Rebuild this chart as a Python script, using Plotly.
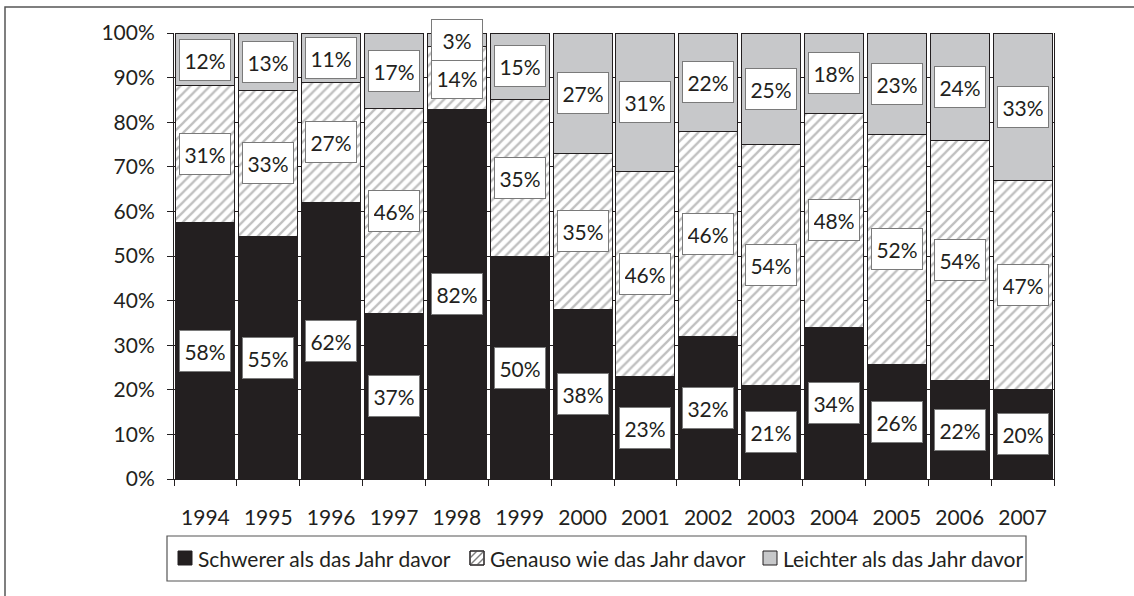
import plotly.graph_objects as go

years = ['1994', '1995', '1996', '1997', '1998', '1999', '2000',
         '2001', '2002', '2003', '2004', '2005', '2006', '2007']
schwerer = [58, 55, 62, 37, 82, 50, 38, 23, 32, 21, 34, 26, 22, 20]
genauso = [31, 33, 27, 46, 14, 35, 35, 46, 46, 54, 48, 52, 54, 47]
leichter = [12, 13, 11, 17, 3, 15, 27, 31, 22, 25, 18, 23, 24, 33]
series_names = ['Schwerer als das Jahr davor',
                'Genauso wie das Jahr davor',
                'Leichter als das Jahr davor']
y_ticks = [0, 10, 20, 30, 40, 50, 60, 70, 80, 90, 100]
y_tick_labels = [f'{t}%' for t in y_ticks]

DARK = '#231f20'
GREY = '#c7c8ca'
HATCH = '#808080'
FONT = 'Lato'

W, H = 1134, 596
ML, MR, MT, MB = 174, 80, 33, 117
PW, PH = W - ML - MR, H - MT - MB


def px(sx):
    return (sx - ML) / PW


def py(sy):
    return (H - MB - sy) / PH


fig = go.Figure()
fig.add_trace(go.Bar(x=years, y=schwerer, name=series_names[0],
                     marker=dict(color=DARK, line=dict(color=DARK, width=1))))
fig.add_trace(go.Bar(x=years, y=genauso, name=series_names[1],
                     marker=dict(color='white', line=dict(color=DARK, width=1),
                                 pattern=dict(shape='/', fgcolor=HATCH, bgcolor='white',
                                              size=7, solidity=0.33))))
fig.add_trace(go.Bar(x=years, y=leichter, name=series_names[2],
                     marker=dict(color=GREY, line=dict(color=DARK, width=1))))

# data labels centred on each normalised segment (x = category index)
for i, yr in enumerate(years):
    vals = [schwerer[i], genauso[i], leichter[i]]
    tot = sum(vals)
    base = 0.0
    for v in vals:
        p = v / tot * 100
        fig.add_annotation(x=i, y=base + p / 2, text=f'{v}%', showarrow=False,
                           xref='x', yref='y', width=40, height=30,
                           font=dict(family=FONT, size=21, color=DARK),
                           bgcolor='white', bordercolor='#7a7a7a', borderwidth=1,
                           borderpad=5)
        base += p

# outer frame
fig.add_shape(type='rect', xref='paper', yref='paper',
              x0=px(5), x1=px(1150), y0=py(620), y1=py(7),
              line=dict(color='#555555', width=1.5), layer='below')

# manual legend
fig.add_shape(type='rect', xref='paper', yref='paper',
              x0=px(167), x1=px(1026), y0=py(581), y1=py(536),
              line=dict(color='#555555', width=1.2), fillcolor='white')
sym_x = [178, 470, 763]
sym_fill = [DARK, 'white', GREY]
sym_top, sym_size = 551, 14
for k, name in enumerate(series_names):
    x0 = sym_x[k]
    fig.add_shape(type='rect', xref='paper', yref='paper',
                  x0=px(x0), x1=px(x0 + sym_size), y0=py(sym_top + sym_size), y1=py(sym_top),
                  line=dict(color=DARK, width=1), fillcolor=sym_fill[k])
    if k == 1:
        for a, b, c, d in [(0, 7, 7, 0), (0, 14, 14, 0), (7, 14, 14, 7)]:
            fig.add_shape(type='line', xref='paper', yref='paper',
                          x0=px(x0 + a), y0=py(sym_top + b), x1=px(x0 + c), y1=py(sym_top + d),
                          line=dict(color=HATCH, width=1.5))
        fig.add_shape(type='rect', xref='paper', yref='paper',
                      x0=px(x0), x1=px(x0 + sym_size), y0=py(sym_top + sym_size), y1=py(sym_top),
                      line=dict(color=DARK, width=1))
    fig.add_annotation(x=px(x0 + sym_size + 4), y=py(sym_top + sym_size / 2), xref='paper', yref='paper',
                       text=name, showarrow=False, xanchor='left', yanchor='middle',
                       font=dict(family=FONT, size=21, color=DARK))

fig.update_layout(
    width=W, height=H,
    barmode='stack', barnorm='percent', bargap=0.06,
    plot_bgcolor='white', paper_bgcolor='white',
    margin=dict(l=ML, r=MR, t=MT, b=MB),
    font=dict(family=FONT, size=21, color=DARK),
    showlegend=False,
)
fig.update_xaxes(type='category', range=[-0.5, len(years) - 0.5],
                 showline=True, linecolor=DARK, linewidth=1,
                 ticks='outside', tickson='boundaries', ticklen=6, tickcolor=DARK,
                 ticklabelstandoff=20, showgrid=False, tickangle=0,
                 tickfont=dict(family=FONT, size=21, color=DARK))
fig.update_yaxes(range=[0, 100], tickmode='array', tickvals=y_ticks, ticktext=y_tick_labels,
                 showline=True, linecolor=DARK, linewidth=1, mirror=True,
                 ticks='outside', ticklen=6, tickcolor=DARK,
                 showgrid=True, gridcolor=DARK, gridwidth=1, zeroline=False,
                 ticklabelstandoff=8,
                 tickfont=dict(family=FONT, size=21, color=DARK))

fig.write_html('out.html', config={'displayModeBar': False},
               post_script="document.body.style.margin='0';document.body.style.overflow='hidden';")
